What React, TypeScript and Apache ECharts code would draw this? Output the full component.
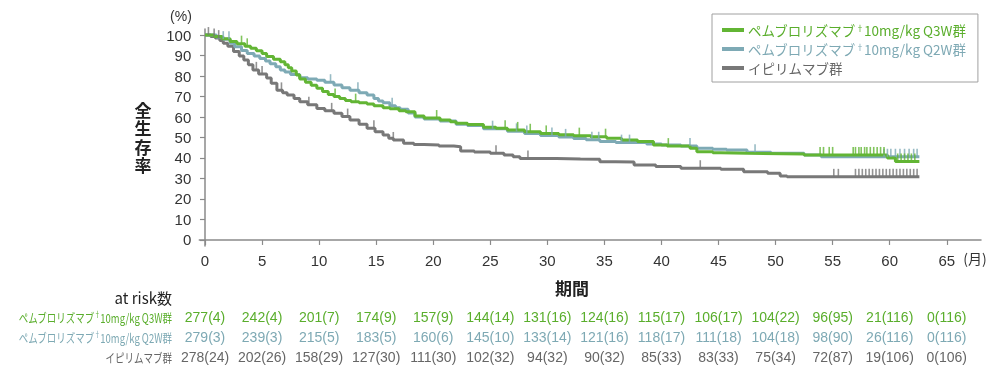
import React, { useEffect, useRef } from 'react';
import * as echarts from 'echarts';

const seriesNames = [
  'ペムブロリズマブ†10mg/kg Q3W群',
  'ペムブロリズマブ†10mg/kg Q2W群',
  'イピリムマブ群',
];
const lineColors = ['#62b534', '#7eaab5', '#787878'];
const textColors = ['#5aae2c', '#7ea9b4', '#666666'];

const xTicks = [0, 5, 10, 15, 20, 25, 30, 35, 40, 45, 50, 55, 60, 65];
const yTicks = [0, 10, 20, 30, 40, 50, 60, 70, 80, 90, 100];
const yTitleChars = ['全', '生', '存', '率'];

const q3wCurve: [number, number][] = [
  [0, 100], [0.8, 99.3], [1.5, 98.2], [2.2, 96.8], [2.8, 95.8], [3.5, 94.5], [4, 93.6], [4.5, 92.3],
  [5, 91], [5.4, 89.5], [6, 88.2], [6.6, 87], [7, 85.5], [7.3, 84], [7.6, 82.5], [8, 80.5], [8.3, 78.5],
  [8.8, 77], [9.3, 75.5], [9.8, 74], [10.3, 72.5], [10.8, 71], [11.3, 70], [11.8, 69], [12.3, 68],
  [12.8, 67.5], [13.5, 67], [14.2, 66.3], [14.8, 65.5], [15.6, 64.5], [16.2, 64], [17, 63], [17.6, 62.6],
  [18.4, 60.5], [19.2, 59.5], [20.6, 58.5], [21.5, 57.7], [22, 57], [23, 56.3], [24.4, 55], [25.5, 54.5],
  [26.5, 53.7], [28, 52.8], [29.4, 52], [31, 51.4], [32.3, 50.9], [33.8, 50.4], [35.2, 49.6], [36.5, 48.8],
  [37.9, 48], [39.3, 46.3], [40.5, 45.8], [42.5, 44.7], [43.1, 43], [44.5, 42.6], [45.2, 42.3], [47.5, 42],
  [52.5, 41.5], [59.8, 40], [60.5, 38.3], [62.6, 38.3],
];
const q2wCurve: [number, number][] = [
  [0, 100], [1, 99], [1.6, 98], [2.2, 96], [2.6, 94.3], [3.2, 92.5], [3.7, 91], [4.3, 89.8], [4.8, 88.6],
  [5.3, 87.3], [5.7, 86], [6.2, 84.5], [6.6, 83], [7, 82], [7.5, 80.8], [8.3, 79.2], [9, 78.6], [9.8, 78],
  [10.5, 77], [11.3, 75.6], [12, 74.3], [12.7, 73], [13.5, 71.8], [14.2, 70.7], [14.8, 69], [15.2, 67.8],
  [15.6, 67], [16.2, 65.5], [16.7, 64.5], [17.1, 63.8], [17.8, 62], [18.4, 60], [19.2, 59], [20.6, 58],
  [22, 56.5], [23, 55.8], [24.4, 54.3], [26.5, 53], [28, 52], [29.4, 51], [31, 50.3], [32.3, 49.5],
  [33.4, 48.9], [34.6, 48], [36, 47.5], [38.7, 46.8], [40, 46.3], [41.7, 45.9], [43.1, 44.7], [44.5, 44.3],
  [45.7, 43.9], [47.5, 42.8], [49.6, 42.3], [52.5, 41.5], [54, 40.6], [62.6, 40.6],
];
const ipiCurve: [number, number][] = [
  [0, 100], [0.5, 99.3], [0.9, 98.5], [1.3, 97.3], [1.6, 96], [2, 94.5], [2.5, 92], [3, 89.8], [3.4, 87.8],
  [3.8, 85.5], [4.2, 83], [4.7, 81], [5.4, 79], [5.8, 76.5], [6.3, 73], [6.8, 71.8], [7.2, 70.7], [7.8, 69],
  [8.3, 67.5], [9, 66], [9.8, 64.2], [10.5, 63], [11.3, 61.8], [12, 60.2], [12.7, 58.5], [13.5, 56.5],
  [14.2, 54.5], [14.9, 52.8], [15.6, 51.2], [16.1, 49.6], [16.5, 48.8], [17.4, 47.2], [18.3, 46.6],
  [19.2, 46.3], [20.5, 45.8], [21.8, 45.5], [22.4, 43.4], [23.6, 42.9], [25, 42.3], [26.2, 41.5], [27, 40.6],
  [27.6, 39.8], [30.8, 39.5], [32.9, 39.4], [34.6, 38.2], [36, 38], [37.6, 36.6], [39.5, 35.8], [41.7, 35],
  [45.2, 34.5], [47.2, 33.3], [49.3, 32.5], [50.4, 31.2], [51, 30.8], [62.6, 30.8],
];

const q3wCensor = [3.2, 3.7, 11.4, 13.2, 20.3, 26.3, 27.4, 28.5, 29.9, 32.8, 35.1, 40.6, 53.9, 54.2, 54.7, 55.0,
  56.8, 57.0, 57.3, 57.5, 57.8, 58.0, 58.3, 58.6, 58.9, 59.2, 59.5, 60.7, 61.0, 61.3, 61.6, 61.9, 62.2];
const q2wCensor = [1.6, 2.1, 11.0, 13.4, 16.4, 25.2, 27.3, 28.2, 30.4, 31.6, 33.9, 34.5, 36.5, 37.2, 42.5, 48.2,
  59.5, 59.8, 60.1, 60.5, 60.9, 61.3, 61.7, 62.1, 62.4];
const ipiCensor = [0.3, 0.8, 1.2, 4.5, 5.0, 6.7, 9.1, 11.1, 12.5, 14.8, 16.5, 25.5, 28.3, 43.4, 55.1, 55.5, 57.0,
  57.3, 57.6, 57.9, 58.2, 58.5, 58.8, 59.1, 59.4, 59.7, 60.0, 60.3, 60.6, 60.9, 61.2, 61.5, 61.8, 62.1, 62.4];

const riskMonths = [0, 5, 10, 15, 20, 25, 30, 35, 40, 45, 50, 55, 60, 65];
const q3wAtRisk = [277, 242, 201, 174, 157, 144, 131, 124, 115, 106, 104, 96, 21, 0];
const q3wCensored = [4, 4, 7, 9, 9, 14, 16, 16, 17, 17, 22, 95, 116, 116];
const q2wAtRisk = [279, 239, 215, 183, 160, 145, 133, 121, 118, 111, 104, 98, 26, 0];
const q2wCensored = [3, 3, 5, 5, 6, 10, 14, 16, 17, 18, 18, 90, 116, 116];
const ipiAtRisk = [278, 202, 158, 127, 111, 102, 94, 90, 85, 83, 75, 72, 19, 0];
const ipiCensored = [24, 26, 29, 30, 30, 32, 32, 32, 33, 33, 34, 87, 106, 106];

const curves = [q3wCurve, q2wCurve, ipiCurve];
const censors = [q3wCensor, q2wCensor, ipiCensor];
const atRisk = [q3wAtRisk, q2wAtRisk, ipiAtRisk];
const censored = [q3wCensored, q2wCensored, ipiCensored];

const levelAt = (curve: [number, number][], t: number) => {
  let v = curve[0][1];
  for (const [x, y] of curve) if (x <= t) v = y;
  return v;
};

const richName = (name: string) => {
  const parts = name.split('†');
  return parts.length > 1 ? `{a|${parts[0]}}{s|†}{a|${parts[1]}}` : `{a|${name}}`;
};

const NUM_FONT = '"Liberation Sans", Arial, sans-serif';
const JP_FONT = '"Noto Sans CJK JP", sans-serif';

export default function App() {
  const ref = useRef<HTMLDivElement>(null);
  useEffect(() => {
    if (!ref.current) return;
    const chart = echarts.init(ref.current, undefined, { renderer: 'svg' });
    const order = [2, 1, 0];
    const lineSeries = order.map((i) => ({
      name: seriesNames[i],
      type: 'line',
      step: 'end',
      showSymbol: false,
      symbol: 'none',
      data: curves[i],
      lineStyle: { color: lineColors[i], width: 3 },
      itemStyle: { color: lineColors[i] },
      z: 2,
    }));
    const censorSeries = order.map((i) => ({
      name: seriesNames[i] + ' censor',
      type: 'scatter',
      symbol: 'rect',
      symbolSize: [1.6, 8],
      symbolOffset: [0, -4],
      data: censors[i].map((t) => [t, levelAt(curves[i], t)]),
      itemStyle: { color: lineColors[i] },
      z: 3,
    }));
    chart.setOption({
      animation: false,
      textStyle: { fontFamily: NUM_FONT },
      grid: { left: 199.3, right: 19, top: 28.9, bottom: 125.9 },
      legend: {
        orient: 'vertical',
        left: 712,
        top: 14,
        padding: [9, 12, 7, 10],
        borderColor: '#a0a0a0',
        borderWidth: 1,
        itemWidth: 22,
        itemHeight: 4,
        itemGap: 5,
        icon: 'rect',
        selectedMode: false,
        data: seriesNames.map((n, i) => ({
          name: n,
          itemStyle: { color: lineColors[i] },
          textStyle: {
            rich: {
              a: { color: textColors[i], fontSize: 13.5, fontFamily: JP_FONT, lineHeight: 14 },
              s: { color: textColors[i], fontSize: 8, fontFamily: JP_FONT, lineHeight: 14, verticalAlign: 'top' },
            },
          },
        })),
        formatter: (n: string) => richName(n),
        textStyle: { lineHeight: 14, padding: [0, 0, 0, -1] },
      },
      xAxis: {
        type: 'value',
        min: -0.5,
        max: 68,
        splitLine: { show: false },
        axisLine: { onZero: true, lineStyle: { color: '#8a8a8a', width: 1.5 } },
        axisTick: { length: 5, customValues: xTicks, lineStyle: { color: '#8a8a8a', width: 1.2 } },
        axisLabel: { customValues: xTicks, color: '#333', fontSize: 15, margin: 7, fontFamily: NUM_FONT },
      },
      yAxis: {
        type: 'value',
        min: -3,
        max: 103,
        splitLine: { show: false },
        axisLine: { onZero: true, lineStyle: { color: '#8a8a8a', width: 1.5 } },
        axisTick: { length: 5, customValues: yTicks, lineStyle: { color: '#8a8a8a', width: 1.2 } },
        axisLabel: { customValues: yTicks, color: '#333', fontSize: 15, margin: 8, fontFamily: NUM_FONT },
      },
      series: [...lineSeries, ...censorSeries],
    });

    const rowY = [317, 337, 357];
    const graphic: any[] = [
      { type: 'text', x: 181, y: 16, style: { text: '(%)', fill: '#333', font: `14px ${NUM_FONT}`, textAlign: 'center', textVerticalAlign: 'middle' } },
      { type: 'text', x: 572, y: 287, style: { text: '期間', fill: '#222', font: `bold 17px ${JP_FONT}`, textAlign: 'center', textVerticalAlign: 'middle' } },
      { type: 'text', x: 975, y: 258, style: { text: '(月)', fill: '#333', font: `14px ${JP_FONT}`, textAlign: 'center', textVerticalAlign: 'middle' } },
      { type: 'text', x: 172, y: 297, style: { text: 'at risk数', fill: '#222', font: `15px ${JP_FONT}`, textAlign: 'right', textVerticalAlign: 'middle' } },
    ];
    yTitleChars.forEach((c, k) => {
      graphic.push({
        type: 'text', x: 143, y: 109 + k * 18.5,
        style: { text: c, fill: '#222', font: `bold 17px ${JP_FONT}`, lineHeight: 18, textAlign: 'center', textVerticalAlign: 'middle' },
      });
    });
    seriesNames.forEach((n, i) => {
      graphic.push({
        type: 'text', x: 172, y: rowY[i], scaleX: 0.76,
        style: {
          text: richName(n), textAlign: 'right', textVerticalAlign: 'middle',
          rich: {
            a: { fill: textColors[i], fontSize: 12.5, fontFamily: JP_FONT, lineHeight: 14 },
            s: { fill: textColors[i], fontSize: 8, fontFamily: JP_FONT, lineHeight: 14, verticalAlign: 'top' },
          },
        },
      });
      riskMonths.forEach((m, j) => {
        const px = chart.convertToPixel({ xAxisIndex: 0 }, m) as number;
        graphic.push({
          type: 'text', x: px, y: rowY[i],
          style: {
            text: `${atRisk[i][j]}(${censored[i][j]})`, fill: textColors[i], font: `14px ${NUM_FONT}`,
            textAlign: 'center', textVerticalAlign: 'middle',
          },
        });
      });
    });
    chart.setOption({ graphic });
    return () => chart.dispose();
  }, []);
  return <div ref={ref} style={{ position: 'fixed', left: 0, top: 0, width: 1000, height: 372 }} />;
}
